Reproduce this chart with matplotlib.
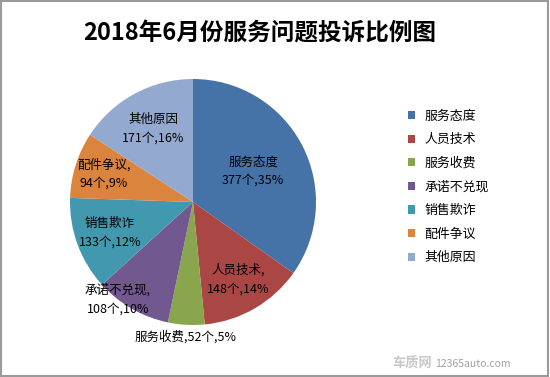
import matplotlib
matplotlib.use("Agg")
import matplotlib.pyplot as plt
import numpy as np
from matplotlib.patches import Rectangle

plt.rcParams['font.family'] = ['Noto Sans CJK SC', 'DejaVu Sans']

# data
categories = ['服务态度', '人员技术', '服务收费', '承诺不兑现', '销售欺诈', '配件争议', '其他原因']
counts = [377, 148, 52, 108, 133, 94, 171]
percents = [35, 14, 5, 10, 12, 9, 16]
colors = ['#4572A7', '#AA4643', '#89A54E', '#71588F', '#4198AF', '#DB843D', '#93A9CF']

# label layout: distance from centre (in radii), extra angle (deg), style
label_dist = [0.55, 0.73, 1.10, 1.00, 0.72, 0.76, 0.68]
label_rot = [0, 0, 0, -8, 0, 0, 0]
label_style = ['two', 'two_comma', 'one', 'two_comma', 'two', 'two_comma', 'two']

fig = plt.figure(figsize=(5.5, 3.77), dpi=100)
W, H = 550, 377

# pie centre (193, 202) px from top, radius 123 px
cx, cy, r = 193, 202, 123
ax = fig.add_axes([(cx - r) / W, (H - cy - r) / H, 2 * r / W, 2 * r / H])
wedges, _ = ax.pie(counts, colors=colors, startangle=90, counterclock=False,
                   radius=1, wedgeprops=dict(linewidth=0))
ax.set_xlim(-1, 1)
ax.set_ylim(-1, 1)
ax.set_aspect('equal')
ax.axis('off')

for i, w in enumerate(wedges):
    ang = np.deg2rad((w.theta1 + w.theta2) / 2 + label_rot[i])
    x = label_dist[i] * np.cos(ang)
    y = label_dist[i] * np.sin(ang)
    if label_style[i] == 'one':
        txt = f'{categories[i]},{counts[i]}个,{percents[i]}%'
    elif label_style[i] == 'two_comma':
        txt = f'{categories[i]},\n{counts[i]}个,{percents[i]}%'
    else:
        txt = f'{categories[i]}\n{counts[i]}个,{percents[i]}%'
    ax.text(x, y, txt, ha='center', va='center', fontsize=9,
            linespacing=1.55, color='black')

fig.text(260 / W, 1 - 33 / H, '2018年6月份服务问题投诉比例图', ha='center', va='center',
         fontsize=17, fontweight='bold')

fig.legend(wedges, categories, loc='upper left',
           bbox_to_anchor=(396 / W, 1 - 98 / H), frameon=False,
           fontsize=9.3, handlelength=0.6, handleheight=0.6,
           labelspacing=0.82, handletextpad=0.7)

# watermark
fig.text(392 / W, 1 - 364 / H, '车质网', ha='left', va='center', fontsize=9.5,
         fontweight='bold', color='#C8C8C8')
fig.text(435 / W, 1 - 364 / H, '12365auto.com', ha='left', va='center',
         fontsize=7.5, color='#A0A0A0')

# border
fig.patches.append(Rectangle((0.002, 0.003), 0.995, 0.994, transform=fig.transFigure,
                             fill=False, edgecolor='#9A9A9A', linewidth=1.5))

fig.savefig('out.png', dpi=100, facecolor='white')
